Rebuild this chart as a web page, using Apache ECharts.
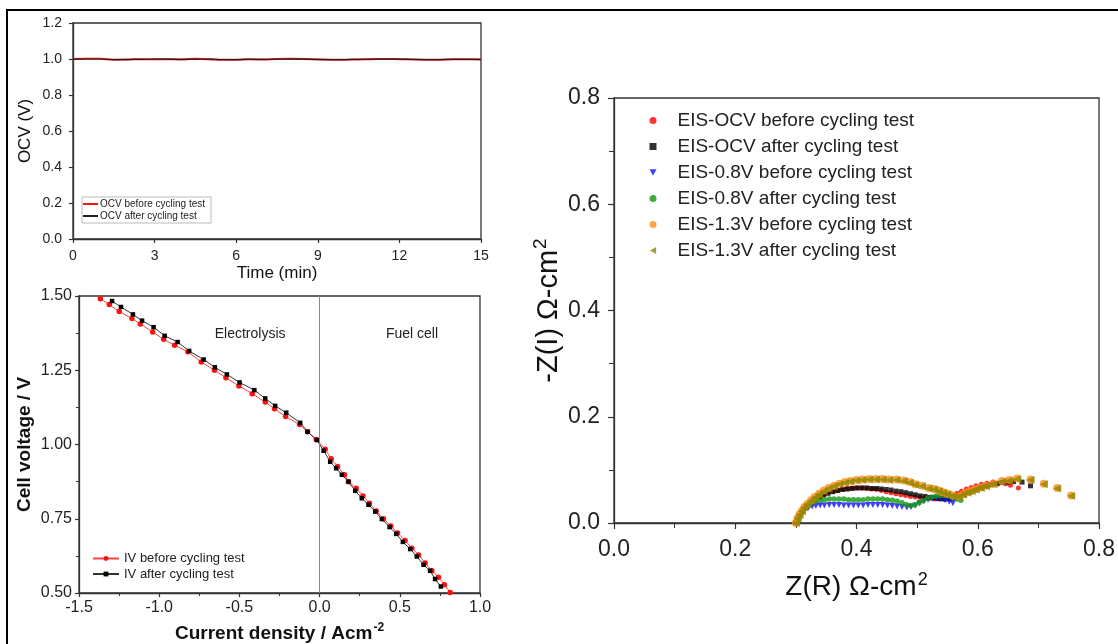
<!DOCTYPE html>
<html>
<head>
<meta charset="utf-8">
<script src="https://cdn.jsdelivr.net/npm/echarts@6/dist/echarts.min.js"></script>
<style>
  html, body { margin: 0; padding: 0; background: #fff; }
  #chart { width: 1118px; height: 644px; }
</style>
</head>
<body>
<div id="chart"></div>
<script>
// ---- OCV hold (top left) ----
const ocvTime = [0, 0.5, 1, 1.5, 2, 2.5, 3, 3.5, 4, 4.5, 5, 5.5, 6, 6.5, 7, 7.5, 8, 8.5, 9, 9.5, 10, 10.5, 11, 11.5, 12, 12.5, 13, 13.5, 14, 14.5, 15];
const ocvBefore = [1.000, 1.002, 1.001, 0.996, 0.997, 0.999, 0.999, 0.998, 0.998, 1.002, 0.999, 0.996, 0.996, 0.998, 0.997, 1.000, 1.001, 1.000, 0.998, 0.996, 0.996, 0.997, 0.999, 1.000, 0.999, 0.997, 0.996, 0.996, 0.998, 0.999, 0.998];
const ocvAfter = [0.999, 1.000, 1.000, 0.997, 0.997, 0.998, 0.999, 0.999, 0.997, 0.998, 0.999, 0.997, 0.997, 0.998, 0.998, 0.999, 0.999, 0.999, 0.997, 0.996, 0.997, 0.998, 0.999, 0.999, 0.999, 0.998, 0.996, 0.997, 0.998, 0.998, 0.997];
const ocvXTicks = [0, 3, 6, 9, 12, 15];

// ---- IV curves (bottom left): [current density, voltage] ----
const ivBefore = [
  [-1.367, 1.491], [-1.311, 1.471], [-1.249, 1.448], [-1.170, 1.424], [-1.118, 1.406],
  [-1.041, 1.379], [-0.972, 1.354], [-0.904, 1.334], [-0.821, 1.312], [-0.738, 1.278],
  [-0.655, 1.250], [-0.584, 1.225], [-0.503, 1.197], [-0.420, 1.171], [-0.339, 1.143],
  [-0.281, 1.120], [-0.212, 1.094], [-0.125, 1.067], [-0.075, 1.043], [-0.021, 1.017],
  [0.035, 0.984], [0.072, 0.952], [0.112, 0.926], [0.155, 0.898], [0.180, 0.875],
  [0.228, 0.853], [0.270, 0.827], [0.311, 0.802], [0.353, 0.776], [0.398, 0.750],
  [0.444, 0.726], [0.486, 0.702], [0.533, 0.677], [0.575, 0.651], [0.617, 0.628],
  [0.658, 0.601], [0.700, 0.575], [0.741, 0.553], [0.778, 0.528], [0.814, 0.502]
];
const ivAfter = [
  [-1.294, 1.483], [-1.238, 1.463], [-1.164, 1.438], [-1.107, 1.417], [-1.035, 1.395],
  [-0.966, 1.366], [-0.885, 1.345], [-0.813, 1.315], [-0.723, 1.286], [-0.653, 1.260],
  [-0.578, 1.236], [-0.499, 1.209], [-0.407, 1.183], [-0.339, 1.155], [-0.277, 1.130],
  [-0.208, 1.107], [-0.121, 1.073], [-0.075, 1.043], [-0.017, 1.015], [0.025, 0.979],
  [0.066, 0.942], [0.103, 0.920], [0.139, 0.898], [0.180, 0.875], [0.222, 0.844],
  [0.263, 0.819], [0.305, 0.797], [0.347, 0.774], [0.388, 0.749], [0.436, 0.722],
  [0.478, 0.699], [0.519, 0.672], [0.565, 0.648], [0.606, 0.623], [0.648, 0.595],
  [0.689, 0.575], [0.720, 0.547], [0.756, 0.522]
];
const ivXTicks = [-1.5, -1.0, -0.5, 0.0, 0.5, 1.0];
const ivYTicks = [0.50, 0.75, 1.00, 1.25, 1.50];

// ---- Impedance spectra (right): [Z(R), -Z(I)] ----
const eisOcvBefore = [
  [0.300, 0.000], [0.302, 0.007], [0.305, 0.014], [0.308, 0.020], [0.312, 0.026], [0.316, 0.031],
  [0.321, 0.036], [0.327, 0.041], [0.333, 0.046], [0.339, 0.050], [0.346, 0.054], [0.353, 0.057],
  [0.361, 0.060], [0.369, 0.062], [0.377, 0.064], [0.385, 0.065], [0.393, 0.066], [0.401, 0.066],
  [0.409, 0.066], [0.417, 0.065], [0.425, 0.064], [0.433, 0.063], [0.441, 0.061], [0.449, 0.059],
  [0.457, 0.057], [0.465, 0.055], [0.473, 0.053], [0.481, 0.052], [0.489, 0.050], [0.497, 0.049],
  [0.505, 0.048], [0.513, 0.047], [0.521, 0.046], [0.529, 0.045], [0.537, 0.045], [0.545, 0.046],
  [0.552, 0.048], [0.559, 0.052], [0.566, 0.056], [0.573, 0.060], [0.581, 0.064], [0.589, 0.067],
  [0.597, 0.070], [0.606, 0.073], [0.615, 0.075], [0.625, 0.077], [0.636, 0.076], [0.646, 0.074],
  [0.654, 0.071], [0.667, 0.066]
];
const eisOcvAfter = [
  [0.300, 0.000], [0.302, 0.007], [0.305, 0.013], [0.308, 0.019], [0.312, 0.025], [0.316, 0.030],
  [0.321, 0.035], [0.327, 0.040], [0.333, 0.045], [0.339, 0.049], [0.346, 0.053], [0.353, 0.056],
  [0.361, 0.059], [0.369, 0.061], [0.377, 0.063], [0.385, 0.064], [0.393, 0.065], [0.401, 0.066],
  [0.409, 0.066], [0.417, 0.066], [0.425, 0.065], [0.433, 0.065], [0.441, 0.064], [0.449, 0.063],
  [0.457, 0.062], [0.465, 0.060], [0.473, 0.059], [0.481, 0.057], [0.489, 0.055], [0.497, 0.053],
  [0.505, 0.051], [0.513, 0.050], [0.521, 0.048], [0.529, 0.047], [0.537, 0.046], [0.545, 0.045],
  [0.553, 0.045], [0.561, 0.047], [0.569, 0.050], [0.578, 0.054], [0.587, 0.058], [0.596, 0.062],
  [0.605, 0.066], [0.614, 0.069], [0.623, 0.072], [0.632, 0.074], [0.641, 0.076], [0.650, 0.077],
  [0.659, 0.078], [0.673, 0.077], [0.687, 0.070]
];
const eis08Before = [
  [0.300, 0.000], [0.302, 0.006], [0.305, 0.012], [0.308, 0.017], [0.312, 0.022], [0.316, 0.026],
  [0.321, 0.029], [0.327, 0.031], [0.333, 0.032], [0.340, 0.033], [0.347, 0.033], [0.355, 0.034],
  [0.363, 0.034], [0.371, 0.034], [0.379, 0.033], [0.387, 0.033], [0.395, 0.033], [0.403, 0.033],
  [0.411, 0.033], [0.419, 0.034], [0.427, 0.034], [0.435, 0.034], [0.443, 0.034], [0.451, 0.033],
  [0.459, 0.032], [0.467, 0.031], [0.475, 0.030], [0.483, 0.029], [0.490, 0.030], [0.497, 0.033],
  [0.504, 0.037], [0.511, 0.041], [0.518, 0.044], [0.525, 0.046], [0.532, 0.046], [0.539, 0.045],
  [0.546, 0.043], [0.553, 0.040], [0.559, 0.037]
];
const eis08After = [
  [0.300, 0.000], [0.302, 0.007], [0.305, 0.014], [0.308, 0.020], [0.312, 0.026], [0.316, 0.031],
  [0.321, 0.035], [0.327, 0.039], [0.333, 0.042], [0.340, 0.043], [0.347, 0.044], [0.355, 0.045],
  [0.363, 0.045], [0.371, 0.045], [0.379, 0.045], [0.387, 0.044], [0.395, 0.044], [0.403, 0.044],
  [0.411, 0.044], [0.419, 0.045], [0.427, 0.045], [0.435, 0.045], [0.443, 0.045], [0.451, 0.044],
  [0.459, 0.043], [0.467, 0.041], [0.475, 0.038], [0.482, 0.035], [0.489, 0.033], [0.496, 0.034],
  [0.503, 0.038], [0.510, 0.042], [0.517, 0.046], [0.524, 0.049], [0.531, 0.051], [0.538, 0.052],
  [0.545, 0.052], [0.552, 0.051], [0.559, 0.048], [0.566, 0.045], [0.572, 0.043]
];
const eis13Before = [
  [0.300, 0.000], [0.303, 0.009], [0.306, 0.016], [0.310, 0.023], [0.314, 0.030], [0.319, 0.036],
  [0.325, 0.043], [0.331, 0.049], [0.338, 0.055], [0.346, 0.061], [0.354, 0.066], [0.363, 0.070],
  [0.372, 0.074], [0.381, 0.077], [0.390, 0.079], [0.400, 0.081], [0.410, 0.082], [0.421, 0.083],
  [0.432, 0.083], [0.443, 0.083], [0.454, 0.082], [0.466, 0.082], [0.478, 0.080], [0.488, 0.077],
  [0.497, 0.073], [0.508, 0.070], [0.519, 0.066], [0.528, 0.064], [0.536, 0.061], [0.543, 0.058],
  [0.550, 0.055], [0.559, 0.052], [0.569, 0.050], [0.576, 0.054], [0.583, 0.058], [0.590, 0.061],
  [0.597, 0.064], [0.605, 0.067], [0.614, 0.070], [0.626, 0.074], [0.640, 0.079], [0.652, 0.081],
  [0.665, 0.084], [0.687, 0.082], [0.709, 0.074], [0.731, 0.066], [0.754, 0.052]
];
const eis13After = [
  [0.300, 0.000], [0.303, 0.008], [0.306, 0.015], [0.310, 0.022], [0.314, 0.029], [0.319, 0.035],
  [0.325, 0.042], [0.331, 0.048], [0.338, 0.054], [0.346, 0.060], [0.354, 0.065], [0.363, 0.069],
  [0.372, 0.073], [0.381, 0.076], [0.390, 0.078], [0.400, 0.080], [0.410, 0.081], [0.421, 0.082],
  [0.432, 0.082], [0.443, 0.082], [0.454, 0.081], [0.466, 0.081], [0.478, 0.079], [0.488, 0.076],
  [0.497, 0.072], [0.508, 0.069], [0.519, 0.065], [0.528, 0.063], [0.536, 0.060], [0.543, 0.057],
  [0.550, 0.054], [0.559, 0.051], [0.569, 0.049], [0.576, 0.053], [0.583, 0.057], [0.590, 0.060],
  [0.597, 0.063], [0.605, 0.066], [0.614, 0.069], [0.626, 0.073], [0.640, 0.078], [0.652, 0.080],
  [0.665, 0.083], [0.687, 0.081], [0.709, 0.073], [0.731, 0.065], [0.754, 0.051]
];
const eisTicks = [0.0, 0.2, 0.4, 0.6, 0.8];

const seriesNames = {
  ocvB: 'OCV before cycling test', ocvA: 'OCV after cycling test',
  ivB: 'IV before cycling test', ivA: 'IV after cycling test',
  e1: 'EIS-OCV before cycling test', e2: 'EIS-OCV after cycling test',
  e3: 'EIS-0.8V before cycling test', e4: 'EIS-0.8V after cycling test',
  e5: 'EIS-1.3V before cycling test', e6: 'EIS-1.3V after cycling test'
};

const FONT = '"Liberation Sans", Arial, sans-serif';
const AX = '#333';

function axisBase(opts) {
  return Object.assign({
    axisLine: { show: true, onZero: false, lineStyle: { color: AX, width: 1.3 } },
    axisTick: { show: true, inside: false, length: 4, lineStyle: { color: AX, width: 1.2 } },
    splitLine: { show: false },
    nameLocation: 'middle',
    nameTextStyle: { fontFamily: FONT, color: '#111' }
  }, opts);
}

const chart = echarts.init(document.getElementById('chart'), null, { renderer: 'canvas' });

const option = {
  backgroundColor: '#fff',
  animation: false,
  grid: [
    { left: 73, right: 637, top: 23, height: 216, show: true, borderColor: AX, borderWidth: 1.3, backgroundColor: 'transparent' },
    { left: 79, right: 638, top: 296, height: 297, show: true, borderColor: AX, borderWidth: 1.3, backgroundColor: 'transparent' },
    { left: 614, right: 18, top: 98, height: 425, show: true, borderColor: AX, borderWidth: 1.3, backgroundColor: 'transparent' }
  ],
  xAxis: [
    axisBase({
      gridIndex: 0, type: 'value', min: ocvXTicks[0], max: ocvXTicks[ocvXTicks.length - 1], interval: 3,
      name: 'Time (min)', nameGap: 26,
      nameTextStyle: { fontFamily: FONT, fontSize: 17, color: '#111' },
      axisLabel: { fontFamily: FONT, fontSize: 14, color: '#222', margin: 10 }
    }),
    axisBase({
      gridIndex: 1, type: 'value', min: ivXTicks[0], max: ivXTicks[ivXTicks.length - 1], interval: 0.5,
      name: 'Current density / Acm{sup|-2}', nameGap: 29,
      nameTextStyle: { fontFamily: FONT, fontSize: 19, fontWeight: 'bold', color: '#111',
        rich: { sup: { fontFamily: FONT, fontSize: 12, fontWeight: 'bold', color: '#111', padding: [0, 0, 11, 1] } } },
      minorTick: { show: true, splitNumber: 2, length: 3, lineStyle: { color: AX, width: 1 } },
      axisLabel: { fontFamily: FONT, fontSize: 16, color: '#222', margin: 7, formatter: v => v.toFixed(1) }
    }),
    axisBase({
      gridIndex: 2, type: 'value', min: eisTicks[0], max: eisTicks[eisTicks.length - 1], interval: 0.2,
      name: 'Z(R) Ω-cm{sup|2}', nameGap: 48,
      nameTextStyle: { fontFamily: FONT, fontSize: 28, color: '#111',
        rich: { sup: { fontFamily: FONT, fontSize: 18, color: '#111', padding: [0, 0, 15, 1] } } },
      minorTick: { show: true, splitNumber: 2, length: 5, lineStyle: { color: AX, width: 1 } },
      axisTick: { show: true, length: 6, lineStyle: { color: AX, width: 1.2 } },
      axisLabel: { fontFamily: FONT, fontSize: 23, color: '#222', margin: 15, formatter: v => v.toFixed(1) }
    })
  ],
  yAxis: [
    axisBase({
      gridIndex: 0, type: 'value', min: 0, max: 1.2, interval: 0.2,
      name: 'OCV (V)', nameGap: 39,
      nameTextStyle: { fontFamily: FONT, fontSize: 17, color: '#111' },
      axisLabel: { fontFamily: FONT, fontSize: 14, color: '#222', margin: 11, formatter: v => v.toFixed(1) }
    }),
    axisBase({
      gridIndex: 1, type: 'value', min: ivYTicks[0], max: ivYTicks[ivYTicks.length - 1], interval: 0.25,
      name: 'Cell voltage / V', nameGap: 45,
      nameTextStyle: { fontFamily: FONT, fontSize: 19, fontWeight: 'bold', color: '#111' },
      minorTick: { show: true, splitNumber: 2, length: 3, lineStyle: { color: AX, width: 1 } },
      axisLabel: { fontFamily: FONT, fontSize: 16, color: '#222', margin: 7, formatter: v => v.toFixed(2) }
    }),
    axisBase({
      gridIndex: 2, type: 'value', min: eisTicks[0], max: eisTicks[eisTicks.length - 1], interval: 0.2,
      name: '-Z(I) Ω-cm{sup|2}', nameGap: 48,
      nameTextStyle: { fontFamily: FONT, fontSize: 29, color: '#111',
        rich: { sup: { fontFamily: FONT, fontSize: 19, color: '#111', padding: [0, 0, 16, 1] } } },
      minorTick: { show: true, splitNumber: 2, length: 5, lineStyle: { color: AX, width: 1 } },
      axisTick: { show: true, length: 6, lineStyle: { color: AX, width: 1.2 } },
      axisLabel: { fontFamily: FONT, fontSize: 23, color: '#222', margin: 14, formatter: v => v.toFixed(1) }
    })
  ],
  legend: [
    {
      left: 82, top: 197, orient: 'vertical', itemGap: 2, padding: [2, 6, 2, 1],
      borderColor: '#bbb', borderWidth: 1, backgroundColor: '#fff',
      icon: 'rect', itemWidth: 15, itemHeight: 2,
      textStyle: { fontFamily: FONT, fontSize: 10, color: '#222', padding: [0, 0, 0, -3] },
      data: [seriesNames.ocvB, seriesNames.ocvA]
    },
    {
      left: 87, top: 547, orient: 'vertical', itemGap: 2.5,
      itemWidth: 26, itemHeight: 6,
      textStyle: { fontFamily: FONT, fontSize: 13, color: '#222', padding: [0, 0, 0, 0] },
      data: [seriesNames.ivB, seriesNames.ivA]
    },
    {
      left: 644.5, top: 106, orient: 'vertical', itemGap: 7,
      itemWidth: 7, itemHeight: 7,
      textStyle: { fontFamily: FONT, fontSize: 19, color: '#222', padding: [0, 0, 0, 16] },
      data: [
        { name: seriesNames.e1, icon: 'circle' },
        { name: seriesNames.e2, icon: 'rect' },
        { name: seriesNames.e3, icon: 'path://M0,0 L10,0 L5,9 Z' },
        { name: seriesNames.e4, icon: 'circle' },
        { name: seriesNames.e5, icon: 'circle' },
        { name: seriesNames.e6, icon: 'path://M0,5 L9,0 L9,10 Z' }
      ]
    }
  ],
  series: [
    {
      name: seriesNames.ocvB, type: 'line', xAxisIndex: 0, yAxisIndex: 0, smooth: true, showSymbol: false,
      lineStyle: { color: '#ff1010', width: 2 }, itemStyle: { color: '#ff1010' },
      data: ocvTime.map((t, i) => [t, ocvBefore[i]])
    },
    {
      name: seriesNames.ocvA, type: 'line', xAxisIndex: 0, yAxisIndex: 0, smooth: true, showSymbol: false,
      lineStyle: { color: '#222', width: 1.2 }, itemStyle: { color: '#222' },
      data: ocvTime.map((t, i) => [t, ocvAfter[i]])
    },
    {
      name: seriesNames.ivB, type: 'line', xAxisIndex: 1, yAxisIndex: 1,
      symbol: 'circle', symbolSize: 5.5,
      lineStyle: { color: '#ff4040', width: 1 }, itemStyle: { color: '#ff1010' },
      data: ivBefore,
      markLine: {
        silent: true, symbol: 'none', label: { show: false },
        lineStyle: { color: '#888', width: 1, type: 'solid' },
        data: [{ xAxis: 0 }]
      }
    },
    {
      name: seriesNames.ivA, type: 'line', xAxisIndex: 1, yAxisIndex: 1,
      symbol: 'rect', symbolSize: 4.5,
      lineStyle: { color: '#333', width: 1 }, itemStyle: { color: '#000' },
      data: ivAfter
    },
    {
      name: seriesNames.e1, type: 'scatter', xAxisIndex: 2, yAxisIndex: 2,
      symbol: 'circle', symbolSize: 5, itemStyle: { color: '#ff0000' }, data: eisOcvBefore
    },
    {
      name: seriesNames.e2, type: 'scatter', xAxisIndex: 2, yAxisIndex: 2,
      symbol: 'rect', symbolSize: 5, itemStyle: { color: '#000' }, data: eisOcvAfter
    },
    {
      name: seriesNames.e3, type: 'scatter', xAxisIndex: 2, yAxisIndex: 2,
      symbol: 'triangle', symbolRotate: 180, symbolSize: 6, itemStyle: { color: '#1010ff' }, data: eis08Before
    },
    {
      name: seriesNames.e4, type: 'scatter', xAxisIndex: 2, yAxisIndex: 2,
      symbol: 'circle', symbolSize: 5.5, itemStyle: { color: '#119911' }, data: eis08After
    },
    {
      name: seriesNames.e5, type: 'scatter', xAxisIndex: 2, yAxisIndex: 2,
      symbol: 'circle', symbolSize: 8, itemStyle: { color: '#ff8c1a' }, data: eis13Before
    },
    {
      name: seriesNames.e6, type: 'scatter', xAxisIndex: 2, yAxisIndex: 2,
      symbol: 'triangle', symbolRotate: 90, symbolSize: 8, itemStyle: { color: '#8a8a00' }, data: eis13After
    }
  ]
};

chart.setOption(option);

// Region captions on the IV panel, anchored in data space
const ivCaptions = [
  { text: 'Electrolysis', at: [-0.433, 1.37] },
  { text: 'Fuel cell', at: [0.576, 1.37] }
];
const graphics = ivCaptions.map(c => {
  const p = chart.convertToPixel({ xAxisIndex: 1, yAxisIndex: 1 }, c.at);
  return {
    type: 'text', x: p[0], y: p[1],
    style: { text: c.text, fontFamily: FONT, fontSize: 14, fill: '#222', align: 'center', verticalAlign: 'middle' }
  };
});
// Outer figure frame
graphics.push({
  type: 'rect', shape: { x: 7, y: 10, width: 1125, height: 650 },
  style: { fill: 'none', stroke: '#000', lineWidth: 2 }, z: 100
});
chart.setOption({ graphic: graphics });
</script>
</body>
</html>
